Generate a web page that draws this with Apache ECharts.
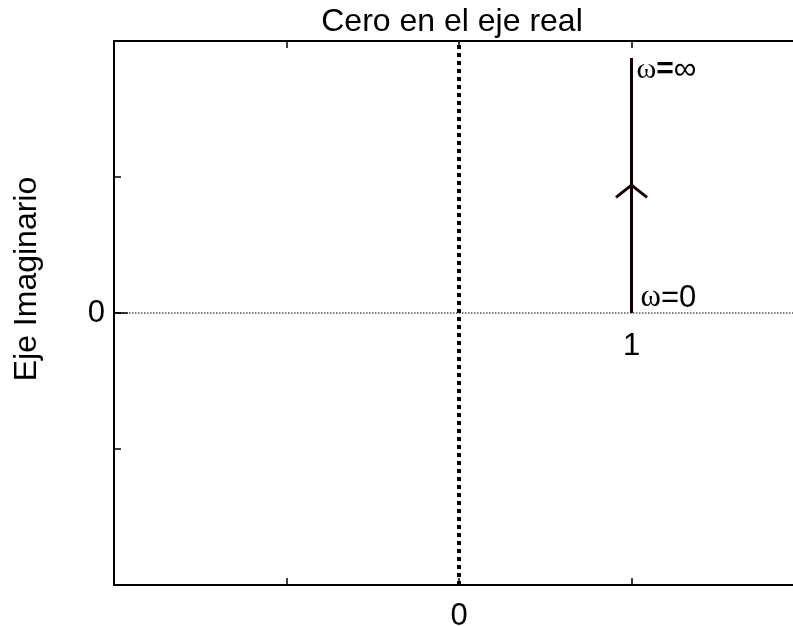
<!DOCTYPE html>
<html>
<head>
<meta charset="utf-8">
<script src="https://cdn.jsdelivr.net/npm/echarts@6/dist/echarts.min.js"></script>
<style>
  html, body { margin: 0; padding: 0; background: #fff; }
  #chart { width: 793px; height: 626px; }
</style>
</head>
<body>
<div id="chart"></div>
<script>
// Nyquist path of a zero on the real axis: vertical ray from 1 + j0 upward
const realRange = [-2, 2];
const imagRange = [-2, 2];
const pathPoints = [[1, 0], [1, 1.875]];          // omega = 0 .. omega -> inf
const arrowPoints = [[0.91, 0.85], [1, 0.94], [1.09, 0.85]];
const imagAxisLine = [[0, -2], [0, 2]];            // dotted imaginary axis
const realAxisLine = [[-2, 0], [2, 0]];            // dotted real axis
const realAxisStub = [[-2.09, 0], [-1.92, 0]];     // solid piece left of the frame
const shownTicks = [0];
const annotations = [
  { value: [1, 0], text: '1', where: 'below' },
  { value: [1, 0], text: '{w|ω}=0', where: 'start' },
  { value: [1, 1.875], text: '{w|ω}{b|=}{i|∞}', where: 'end' }
];

const fontSans = 'Liberation Sans, Arial, sans-serif';
const fontSerif = 'Liberation Serif, Times New Roman, serif';

const chart = echarts.init(document.getElementById('chart'), null, { renderer: 'canvas' });

const labelPlacement = {
  below: { position: 'bottom', distance: 18, fontSize: 31 },
  start: { position: 'right', offset: [9, -15], fontSize: 31 },
  end: { position: 'right', offset: [5, 12], fontSize: 30 }
};

chart.setOption({
  animation: false,
  title: {
    text: 'Cero en el eje real',
    left: 447,
    top: 1,
    textAlign: 'center',
    textStyle: { fontFamily: fontSans, fontSize: 32, fontWeight: 'normal', color: '#000' }
  },
  grid: {
    left: 114, top: 41, width: 690, height: 544, show: false,
    containLabel: false, outerBoundsMode: 'none'
  },
  xAxis: [{
    type: 'value', min: realRange[0], max: realRange[1], interval: 1,
    position: 'bottom',
    axisLine: { show: true, onZero: false, lineStyle: { color: '#000', width: 2 } },
    axisTick: { show: true, inside: true, length: 7, lineStyle: { color: '#000', width: 1.5 } },
    axisLabel: {
      margin: 16, fontFamily: fontSans, fontSize: 31, color: '#000',
      formatter: v => shownTicks.includes(v) ? String(v) : ''
    },
    splitLine: { show: false }
  }, {
    type: 'value', min: realRange[0], max: realRange[1], interval: 1,
    position: 'top',
    axisLine: { show: true, onZero: false, lineStyle: { color: '#000', width: 2 } },
    axisTick: { show: true, inside: true, length: 7, lineStyle: { color: '#000', width: 1.5 } },
    axisLabel: { show: false },
    splitLine: { show: false }
  }],
  yAxis: {
    type: 'value', min: imagRange[0], max: imagRange[1], interval: 1,
    axisLine: { show: true, onZero: false, lineStyle: { color: '#000', width: 2 } },
    axisTick: { show: true, inside: true, length: 7, lineStyle: { color: '#000', width: 1.5 } },
    axisLabel: {
      margin: 9, fontFamily: fontSans, fontSize: 31, color: '#000',
      formatter: v => shownTicks.includes(v) ? String(v) : ''
    },
    splitLine: { show: false }
  },
  graphic: [{
    type: 'text',
    x: 27, y: 279, rotation: Math.PI / 2,
    style: {
      text: 'Eje Imaginario', font: '32px ' + fontSans, fill: '#000',
      textAlign: 'center', textVerticalAlign: 'middle'
    }
  }],
  series: [
    {
      type: 'line', data: realAxisLine, symbol: 'none', silent: true,
      lineStyle: { color: '#000', width: 1, type: [1.5, 1.5] }
    },
    {
      type: 'line', data: realAxisStub, symbol: 'none', silent: true, clip: false,
      lineStyle: { color: '#000', width: 1.5 }
    },
    {
      type: 'line', data: imagAxisLine, symbol: 'none', silent: true,
      lineStyle: { color: '#000', width: 4, type: [4, 4] }
    },
    {
      type: 'line', data: pathPoints, symbol: 'none', silent: true,
      lineStyle: { color: '#120000', width: 3 }
    },
    {
      type: 'line', data: arrowPoints, symbol: 'none', silent: true,
      lineStyle: { color: '#120000', width: 3 }
    },
    {
      type: 'scatter', symbolSize: 0, silent: true,
      itemStyle: { opacity: 1 },
      data: annotations.map(a => {
        const p = labelPlacement[a.where];
        return {
          value: a.value,
          label: {
            show: true, formatter: a.text, position: p.position, distance: p.distance || 0,
            offset: p.offset || [0, 0], fontFamily: fontSans, fontSize: p.fontSize,
            color: '#000', opacity: 1,
            rich: {
              w: { fontFamily: fontSerif, fontSize: p.fontSize, color: '#000' },
              b: { fontFamily: fontSans, fontSize: p.fontSize, fontWeight: 'bold', color: '#000' },
              i: { fontFamily: fontSans, fontSize: p.fontSize + 2, color: '#000', verticalAlign: 'top' }
            }
          }
        };
      })
    }
  ]
});
</script>
</body>
</html>
